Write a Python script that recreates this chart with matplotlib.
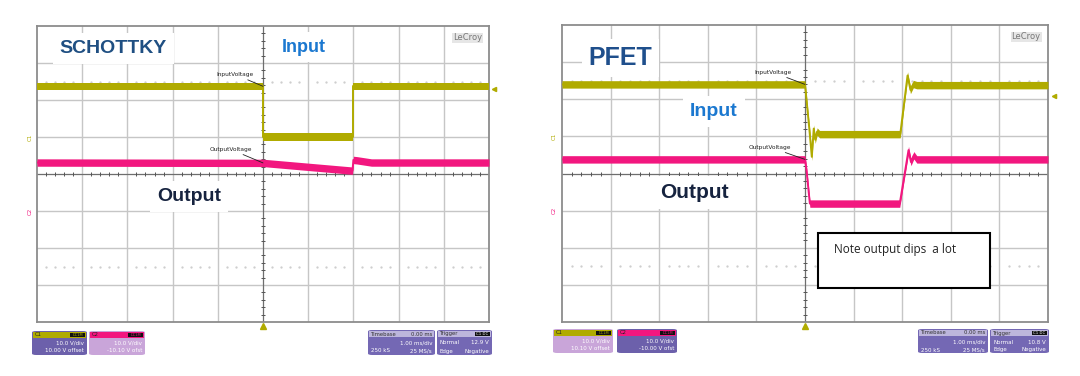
import matplotlib.pyplot as plt
from matplotlib.patches import Rectangle, FancyBboxPatch

# ------------------------------------------------------------------
# Data (time in ms, voltage in V)
# ------------------------------------------------------------------
VOLTS_PER_DIV = 10.0

sch_in_offset = 10.00
sch_out_offset = -10.10
sch_in_t = [-5.0, 0.0, 0.0, 2.0, 2.0, 5.0]
sch_in_v = [13.7, 13.7, 0.0, 0.0, 13.7, 13.7]
sch_out_t = [-5.0, 0.0, 1.98, 2.0, 2.08, 2.4, 5.0]
sch_out_v = [13.2, 13.1, 11.0, 13.9, 13.8, 13.2, 13.2]

pfet_in_offset = 10.10
pfet_out_offset = -10.00
pfet_in_t = [-5.0, 0.0, 0.09, 0.14, 0.18, 0.21, 0.25, 0.30, 1.96, 2.11, 2.17, 2.23, 2.30, 5.0]
pfet_in_v = [13.9, 13.9, 1.8, -5.6, 2.0, -1.0, 1.2, 0.5, 0.5, 16.3, 12.4, 14.0, 13.7, 13.7]
pfet_out_t = [-5.0, 0.0, 0.03, 0.10, 1.95, 2.13, 2.18, 2.24, 2.30, 5.0]
pfet_out_v = [13.8, 13.8, 11.0, 1.9, 1.9, 16.3, 13.1, 14.9, 13.8, 13.8]

sch_trigger = 12.9
pfet_trigger = 10.8

sch_c1_lines = ["10.0 V/div", "10.00 V offset"]
sch_c2_lines = ["10.0 V/div", "-10.10 V ofst"]
pfet_c1_lines = ["10.0 V/div", "10.10 V offset"]
pfet_c2_lines = ["10.0 V/div", "-10.00 V ofst"]
timebase_lines = [("", "1.00 ms/div"), ("250 kS", "25 MS/s")]
sch_trig_lines = [("Normal", "12.9 V"), ("Edge", "Negative")]
pfet_trig_lines = [("Normal", "10.8 V"), ("Edge", "Negative")]

IN_COLOR = "#b0ab00"
OUT_COLOR = "#f2177f"
DARK_BOX = "#6c60ab"
LIGHT_BOX = "#c9a5d9"
HEAD_BOX = "#bdb6dc"

W, H = 1080, 376
fig = plt.figure(figsize=(W / 100, H / 100), dpi=100)
fig.patch.set_facecolor("white")


def to_div(v, offset):
    return [(x + offset) / VOLTS_PER_DIV for x in v]


def fig_xy(px, py):
    return px / W, 1 - py / H


# ------------------------------------------------------------------
# Scope screen
# ------------------------------------------------------------------
def scope_axes(left, top, right, bottom):
    ax = fig.add_axes([left / W, 1 - bottom / H, (right - left) / W, (bottom - top) / H])
    ax.set_xlim(-5, 5)
    ax.set_ylim(-4, 4)
    ax.set_xticks([])
    ax.set_yticks([])
    for s in ax.spines.values():
        s.set_color("#8c8c8c")
        s.set_linewidth(1.3)
    for x in range(-4, 5):
        if x != 0:
            ax.axvline(x, color="#c6c6c6", lw=1.0, zorder=1)
    for y in range(-3, 4):
        if y != 0:
            ax.axhline(y, color="#c6c6c6", lw=1.0, zorder=1)
    ax.axvline(0, color="#6e6e6e", lw=0.9, zorder=1)
    ax.axhline(0, color="#6e6e6e", lw=0.9, zorder=1)
    minor_x = [i / 5 for i in range(-25, 26) if i % 5 != 0]
    minor_y = [i / 5 for i in range(-20, 21) if i % 5 != 0]
    ax.plot(minor_x, [0] * len(minor_x), "|", color="#555555", ms=2.5, mew=0.7, zorder=1)
    ax.plot([0] * len(minor_y), minor_y, "_", color="#555555", ms=2.5, mew=0.7, zorder=1)
    for y in (2.5, -2.5):
        ax.plot(minor_x, [y] * len(minor_x), ".", color="#cccccc", ms=1.3, zorder=1)
    ax.text(0.985, 0.975, "LeCroy", transform=ax.transAxes, ha="right", va="top",
            fontsize=6, color="#777777", fontfamily="DejaVu Sans",
            bbox=dict(facecolor="#e6e6e6", edgecolor="none", pad=0.6))
    return ax


def trace(ax, t, v, offset, color):
    y = to_div(v, offset)
    ax.fill_between(t, [a - 0.1 for a in y], [a + 0.1 for a in y],
                    color=color, lw=0, zorder=3)
    ax.plot(t, y, color=color, lw=1.4, zorder=3)
    return y


def big_label(ax, x, y, text, color, size):
    ax.text(x, y, text, color=color, fontsize=size, fontweight="bold",
            fontfamily="Liberation Sans", ha="left", va="center", zorder=5,
            bbox=dict(facecolor="white", edgecolor="none", pad=5))


def small_tag(ax, text, xy, xytext):
    ax.annotate(text, xy=xy, xytext=xytext, fontsize=4.2, ha="right", va="bottom",
                color="#222222", zorder=6,
                arrowprops=dict(arrowstyle="-", color="#222222", lw=0.6,
                                shrinkA=0, shrinkB=0))


def markers(ax, in_offset, out_offset, trig, color_in, color_out):
    ax.plot(0, -4.12, marker="^", color=color_in, ms=4, clip_on=False)
    ax.plot(5.12, (trig + in_offset) / VOLTS_PER_DIV, marker="<", color=color_in,
            ms=3, clip_on=False)
    ax.text(-5.1, in_offset / VOLTS_PER_DIV, "C1", color=color_in, fontsize=4,
            rotation=90, ha="right", va="center")
    ax.text(-5.1, out_offset / VOLTS_PER_DIV, "C2", color=color_out, fontsize=4,
            rotation=90, ha="right", va="center")


# ------------------------------------------------------------------
# Info boxes under the screens
# ------------------------------------------------------------------
def channel_box(x0, x1, y0, y1, head_color, body_color, name, lines):
    w, h = (x1 - x0) / W, (y1 - y0) / H
    fx, fy = fig_xy(x0, y1)
    fig.patches.append(FancyBboxPatch((fx, fy), w, h, boxstyle="round,pad=0,rounding_size=0.004",
                                      transform=fig.transFigure, facecolor=body_color,
                                      edgecolor="none"))
    hx, hy = fig_xy(x0 + 1, y0 + 7)
    fig.patches.append(Rectangle((hx, hy), (x1 - x0 - 2) / W, 6 / H, transform=fig.transFigure,
                                 facecolor=head_color, edgecolor="none"))
    tx, ty = fig_xy(x1 - 17, y0 + 6)
    fig.patches.append(Rectangle((tx, ty), 15 / W, 4.5 / H, transform=fig.transFigure,
                                 facecolor="#111111", edgecolor="none"))
    fig.text(*fig_xy(x0 + 3, y0 + 4), name, fontsize=3.8, color="#222222", va="center")
    fig.text(*fig_xy(x1 - 9.5, y0 + 4), "DC1M", fontsize=2.6, color=head_color,
             va="center", ha="center")
    for i, line in enumerate(lines):
        fig.text(*fig_xy(x1 - 3, y0 + 12 + 8 * i), line, fontsize=4, color="white",
                 ha="right", va="center")


def status_box(x0, x1, y0, y1, title, right_head, lines, tag=False):
    w, h = (x1 - x0) / W, (y1 - y0) / H
    fx, fy = fig_xy(x0, y1)
    fig.patches.append(FancyBboxPatch((fx, fy), w, h, boxstyle="round,pad=0,rounding_size=0.004",
                                      transform=fig.transFigure, facecolor="#7468b4",
                                      edgecolor="none"))
    hx, hy = fig_xy(x0 + 1, y0 + 7)
    fig.patches.append(Rectangle((hx, hy), (x1 - x0 - 2) / W, 6 / H, transform=fig.transFigure,
                                 facecolor=HEAD_BOX, edgecolor="none"))
    fig.text(*fig_xy(x0 + 3, y0 + 4), title, fontsize=3.8, color="#333333", va="center")
    if tag:
        tx, ty = fig_xy(x1 - 17, y0 + 6)
        fig.patches.append(Rectangle((tx, ty), 15 / W, 4.5 / H, transform=fig.transFigure,
                                     facecolor="#111111", edgecolor="none"))
        fig.text(*fig_xy(x1 - 9.5, y0 + 4), right_head, fontsize=2.8, color="white",
                 va="center", ha="center")
    else:
        fig.text(*fig_xy(x1 - 3, y0 + 4), right_head, fontsize=3.8, color="#333333",
                 va="center", ha="right")
    for i, (lft, rgt) in enumerate(lines):
        fig.text(*fig_xy(x0 + 3, y0 + 13 + 8 * i), lft, fontsize=4, color="white", va="center")
        fig.text(*fig_xy(x1 - 3, y0 + 13 + 8 * i), rgt, fontsize=4, color="white",
                 ha="right", va="center")


# ------------------------------------------------------------------
# Left capture : Schottky
# ------------------------------------------------------------------
ax1 = scope_axes(37, 26, 489, 322)
yin = trace(ax1, sch_in_t, sch_in_v, sch_in_offset, IN_COLOR)
yout = trace(ax1, sch_out_t, sch_out_v, sch_out_offset, OUT_COLOR)
markers(ax1, sch_in_offset, sch_out_offset, sch_trigger, IN_COLOR, OUT_COLOR)
small_tag(ax1, "InputVoltage", (0, yin[1]), (-0.2, 2.62))
small_tag(ax1, "OutputVoltage", (0, yout[1]), (-0.25, 0.6))
big_label(ax1, -4.5, 3.4, "SCHOTTKY", "#1f4f82", 14)
big_label(ax1, 0.42, 3.43, "Input", "#1b78d0", 13)
big_label(ax1, -2.35, -0.62, "Output", "#16233f", 14)

channel_box(32, 87, 331, 355, IN_COLOR, DARK_BOX, "C1", sch_c1_lines)
channel_box(89, 145, 331, 355, OUT_COLOR, LIGHT_BOX, "C2", sch_c2_lines)
status_box(368, 435, 330, 355, "Timebase", "0.00 ms", timebase_lines)
status_box(437, 492, 330, 355, "Trigger", "C1 DC", sch_trig_lines, tag=True)

# ------------------------------------------------------------------
# Right capture : PFET
# ------------------------------------------------------------------
ax2 = scope_axes(562, 25, 1048, 322)
yin = trace(ax2, pfet_in_t, pfet_in_v, pfet_in_offset, IN_COLOR)
yout = trace(ax2, pfet_out_t, pfet_out_v, pfet_out_offset, OUT_COLOR)
markers(ax2, pfet_in_offset, pfet_out_offset, pfet_trigger, IN_COLOR, OUT_COLOR)
small_tag(ax2, "InputVoltage", (0, yin[1]), (-0.28, 2.66))
small_tag(ax2, "OutputVoltage", (0, yout[1]), (-0.28, 0.64))
big_label(ax2, -4.45, 3.1, "PFET", "#1f4f8c", 18)
big_label(ax2, -2.37, 1.66, "Input", "#1b78d0", 14)
big_label(ax2, -2.98, -0.52, "Output", "#16233f", 15)

ax2.add_patch(Rectangle((0.27, -3.09), 3.54, 1.49, facecolor="white", edgecolor="black",
                        lw=1.5, zorder=6))
ax2.text(0.6, -2.05, "Note output dips  a lot", fontsize=8.5, fontfamily="Open Sans",
         color="#222222", ha="left", va="center", zorder=7)

channel_box(553, 613, 329, 353, IN_COLOR, LIGHT_BOX, "C1", pfet_c1_lines)
channel_box(617, 677, 329, 353, OUT_COLOR, DARK_BOX, "C2", pfet_c2_lines)
status_box(918, 988, 329, 353, "Timebase", "0.00 ms", timebase_lines)
status_box(990, 1049, 329, 353, "Trigger", "C1 DC", pfet_trig_lines, tag=True)

fig.savefig("out.png", dpi=100)
